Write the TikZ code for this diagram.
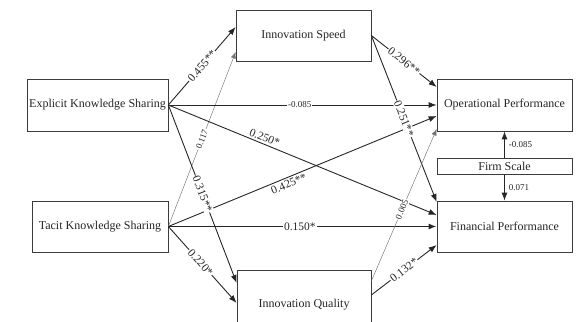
\documentclass[tikz,border=0pt]{standalone}
\usepackage{fontspec}
\setmainfont{Liberation Serif}
\usepackage{xcolor}
\definecolor{boxgray}{RGB}{60,60,60}
\usepackage{tikz}
\usetikzlibrary{arrows.meta, positioning}

\begin{document}
\begin{tikzpicture}[
    x=1pt, y=1pt,
    box/.style={draw=boxgray, line width=0.7pt, fill=white, inner sep=0pt, text=black!85, font=\fontsize{12}{14}\selectfont},
    link/.style={draw=black!85, line width=0.9pt, -{Latex[length=8pt, width=6pt]}},
    boldlink/.style={link, line width=1.4pt},
    weaklink/.style={link, draw=black!55, line width=0.45pt, -{Latex[length=6.5pt, width=5pt]}},
    coef/.style={sloped, fill=white, inner sep=1pt, text=black!85, font=\fontsize{11.5}{13}\selectfont},
    smallcoef/.style={coef, font=\fontsize{9}{11}\selectfont},
    freecoef/.style={sloped, inner sep=2pt, text=black!85, font=\fontsize{11.5}{13}\selectfont},
    sidecoef/.style={right, inner sep=4pt, text=black!85, font=\fontsize{9}{11}\selectfont}
]
\clip (0,0) rectangle (577,321);

% Knowledge sharing (left)
\node[box, minimum width=141pt, minimum height=52pt] (eks) at (97.5,216) {Explicit Knowledge Sharing};
\node[box, minimum width=136pt, minimum height=51pt] (tks) at (100,94.5) {Tacit Knowledge Sharing};

% Innovation (middle)
\node[box, minimum width=135pt, minimum height=51pt] (ispeed) at (303.5,285.5) {Innovation Speed};
\node[box, minimum width=134pt, minimum height=70pt] (iquality) at (304,16) {Innovation Quality};

% Performance (right)
\node[box, minimum width=135pt, minimum height=52pt] (opperf) at (504.5,216) {Operational Performance};
\node[box, minimum width=135pt, minimum height=16pt] (fscale) at (504.5,155) {Firm Scale};
\node[box, minimum width=135pt, minimum height=51pt] (finperf) at (504.5,94.5) {Financial Performance};

% Sharing -> innovation
\draw[link] (eks.east) -- node[coef] {0.455**} ([yshift=8.5pt]ispeed.west);
\draw[weaklink] (tks.east) -- node[smallcoef] {0.117} ([yshift=-16.5pt]ispeed.west);
\draw[link] (tks.east) -- node[coef, pos=0.47] {0.220*} ([yshift=2pt]iquality.west);

% Sharing -> performance
\draw[link] (eks.east) -- node[freecoef, above, pos=0.35] {0.250*} ([yshift=11.5pt]finperf.west);
\draw[link] (tks.east) -- node[freecoef, below, pos=0.44] {0.425**} ([yshift=-11pt]opperf.west);
\draw[link] (eks.east) -- node[smallcoef, pos=0.49] {-0.085} (opperf.west);
\draw[boldlink] (tks.east) -- node[coef, pos=0.49] {0.150*} (finperf.west);
\draw[link] (eks.east) -- node[coef] {0.315**} ([yshift=22pt]iquality.west);

% Innovation -> performance
\draw[link] (ispeed.east) -- node[coef] {0.296**} ([yshift=18pt]opperf.west);
\draw[link] (ispeed.east) -- node[coef] {0.251**} ([yshift=24.5pt]finperf.west);
\draw[weaklink] ([yshift=24pt]iquality.east) -- node[smallcoef, pos=0.47] {0.005} ([yshift=-24pt]opperf.west);
\draw[link] ([yshift=10pt]iquality.east) -- node[coef] {0.132*} ([yshift=-18.5pt]finperf.west);

% Control
\draw[link] (fscale.north) -- node[sidecoef] {-0.085} (opperf.south);
\draw[link] (fscale.south) -- node[sidecoef] {0.071} (finperf.north);

\end{tikzpicture}
\end{document}
